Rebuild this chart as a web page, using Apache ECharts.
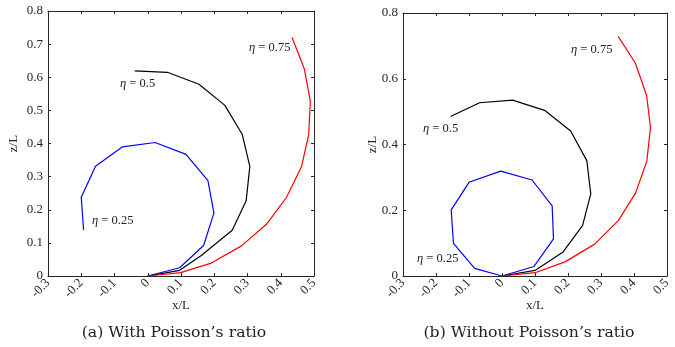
<!DOCTYPE html>
<html>
<head>
<meta charset="utf-8">
<script src="https://cdn.jsdelivr.net/npm/echarts@6/dist/echarts.min.js"></script>
<style>
html,body{margin:0;padding:0;background:#fff;}
#c{width:675px;height:347px;}
</style>
</head>
<body>
<div id="c"></div>
<script>
// ---- data (x/L, z/L) ----
var xTicks = [-0.3, -0.2, -0.1, 0, 0.1, 0.2, 0.3, 0.4, 0.5];
var leftYTicks = [0, 0.1, 0.2, 0.3, 0.4, 0.5, 0.6, 0.7, 0.8];
var rightYTicks = [0, 0.2, 0.4, 0.6, 0.8];

// (a) With Poisson's ratio
var aBlueX  = [0, 0.096, 0.168, 0.199, 0.181, 0.115, 0.022, -0.076, -0.157, -0.200, -0.193];
var aBlueY  = [0, 0.025, 0.092, 0.190, 0.288, 0.367, 0.403, 0.390, 0.331, 0.238, 0.139];
var aBlackX = [0, 0.096, 0.161, 0.254, 0.296, 0.307, 0.284, 0.232, 0.154, 0.059, -0.039];
var aBlackY = [0, 0.017, 0.062, 0.138, 0.227, 0.331, 0.428, 0.515, 0.579, 0.615, 0.619];
var aRedX   = [0, 0.099, 0.191, 0.282, 0.357, 0.417, 0.462, 0.484, 0.489, 0.471, 0.434];
var aRedY   = [0, 0.010, 0.039, 0.091, 0.156, 0.237, 0.329, 0.426, 0.527, 0.625, 0.720];

// (b) Without Poisson's ratio
var bBlueX  = [0, 0.097, 0.156, 0.152, 0.091, -0.004, -0.100, -0.154, -0.147, -0.083, 0];
var bBlueY  = [0, 0.029, 0.113, 0.213, 0.292, 0.319, 0.285, 0.201, 0.099, 0.023, 0];
var bBlackX = [0, 0.100, 0.184, 0.244, 0.269, 0.257, 0.208, 0.129, 0.032, -0.068, -0.156];
var bBlackY = [0, 0.017, 0.072, 0.153, 0.250, 0.351, 0.441, 0.504, 0.535, 0.527, 0.485];
var bRedX   = [0, 0.100, 0.191, 0.281, 0.353, 0.405, 0.439, 0.450, 0.438, 0.404, 0.352];
var bRedY   = [0, 0.010, 0.043, 0.097, 0.169, 0.253, 0.350, 0.452, 0.550, 0.648, 0.729];

var etaLabels = ['0.25', '0.5', '0.75'];
var captions = ["(a) With Poisson\u2019s ratio", "(b) Without Poisson\u2019s ratio"];

function zip(xs, ys) { return xs.map(function (x, i) { return [x, ys[i]]; }); }
function fmt(v) { return (+v.toFixed(2)).toString(); }

var FONT = 'Liberation Serif';
var CAPFONT = 'DejaVu Serif';
var AX = '#262626';
var TXT = '#262626';

function xAx(grid, pos, showLabels) {
  return {
    type: 'value', gridIndex: grid, position: pos,
    min: xTicks[0], max: xTicks[xTicks.length - 1], interval: 0.1,
    name: showLabels ? 'x/L' : '', nameLocation: 'middle', nameGap: 23,
    nameMoveOverlap: false,
    nameTextStyle: { fontFamily: FONT, fontSize: 13, color: TXT },
    axisLine: { show: true, onZero: false, lineStyle: { color: AX, width: 1 } },
    axisTick: { show: true, inside: true, length: 3, lineStyle: { color: AX } },
    axisLabel: { show: showLabels, rotate: 45, margin: 5, fontFamily: FONT, fontSize: 13, color: TXT, formatter: fmt },
    splitLine: { show: false }
  };
}
function yAx(grid, pos, showLabels, interval, ticks) {
  return {
    type: 'value', gridIndex: grid, position: pos,
    min: ticks[0], max: ticks[ticks.length - 1], interval: interval,
    name: showLabels ? 'z/L' : '', nameLocation: 'middle', nameGap: grid === 0 ? 28 : 24,
    nameMoveOverlap: false,
    nameTextStyle: { fontFamily: FONT, fontSize: 13, color: TXT },
    axisLine: { show: true, onZero: false, lineStyle: { color: AX, width: 1 } },
    axisTick: { show: true, inside: true, length: 3, lineStyle: { color: AX } },
    axisLabel: { show: showLabels, margin: 5, fontFamily: FONT, fontSize: 13, color: TXT, formatter: fmt },
    splitLine: { show: false }
  };
}
function line(xi, yi, xs, ys, color) {
  return {
    type: 'line', xAxisIndex: xi, yAxisIndex: yi, data: zip(xs, ys),
    symbol: 'none', animation: false,
    lineStyle: { color: color, width: 1.2 }
  };
}

// caption font size chosen so the caption spans ~185 px
var capSize = 15;
(function () {
  var ctx = document.createElement('canvas').getContext('2d');
  ctx.font = '100px "' + CAPFONT + '"';
  var w = ctx.measureText(captions[0]).width;
  if (w > 0) capSize = Math.round(185 / w * 100 * 10) / 10;
})();

var chart = echarts.init(document.getElementById('c'), null, { renderer: 'canvas' });

function etaText(left, top, val) {
  return {
    type: 'text', left: left, top: top,
    style: {
      text: '{i|\u03b7} = ' + val,
      rich: { i: { fontStyle: 'italic', fontFamily: FONT, fontSize: 12.5, fill: '#222' } },
      fontFamily: FONT, fontSize: 12.5, fill: '#222'
    }
  };
}

chart.setOption({
  animation: false,
  backgroundColor: '#fff',
  grid: [
    { left: 48, top: 11, width: 266, height: 265 },
    { left: 403, top: 13, width: 264, height: 263 }
  ],
  xAxis: [xAx(0, 'bottom', true), xAx(0, 'top', false), xAx(1, 'bottom', true), xAx(1, 'top', false)],
  yAxis: [yAx(0, 'left', true, 0.1, leftYTicks), yAx(0, 'right', false, 0.1, leftYTicks),
          yAx(1, 'left', true, 0.2, rightYTicks), yAx(1, 'right', false, 0.2, rightYTicks)],
  series: [
    line(0, 0, aBlueX, aBlueY, '#0000ff'),
    line(0, 0, aBlackX, aBlackY, '#000000'),
    line(0, 0, aRedX, aRedY, '#ff0000'),
    line(2, 2, bBlueX, bBlueY, '#0000ff'),
    line(2, 2, bBlackX, bBlackY, '#000000'),
    line(2, 2, bRedX, bRedY, '#ff0000')
  ],
  graphic: [
    etaText(249, 41, etaLabels[2]),
    etaText(120, 77, etaLabels[1]),
    etaText(92, 214, etaLabels[0]),
    etaText(571, 43, etaLabels[2]),
    etaText(423, 122, etaLabels[1]),
    etaText(417, 252, etaLabels[0]),
    { type: 'text', x: 174, y: 333, style: { text: captions[0], fontFamily: CAPFONT, fontSize: capSize, fill: '#222', align: 'center', verticalAlign: 'middle' } },
    { type: 'text', x: 529, y: 333, style: { text: captions[1], fontFamily: CAPFONT, fontSize: capSize, fill: '#222', align: 'center', verticalAlign: 'middle' } }
  ]
});
</script>
</body>
</html>
